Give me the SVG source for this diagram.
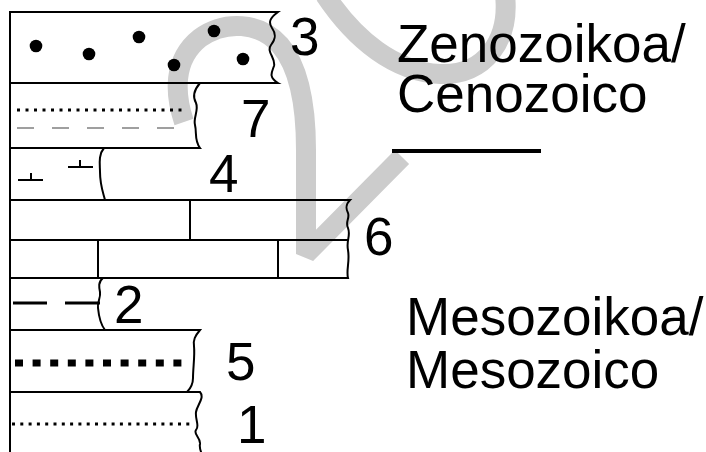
<svg xmlns="http://www.w3.org/2000/svg" width="706" height="452" viewBox="0 0 706 452">
  <style>
    .box { fill: none; stroke: #000; stroke-width: 2; stroke-linejoin: miter; }
    .num { font-family: "Liberation Sans", Arial, sans-serif; font-size: 53px; fill: #000; }
    .era { font-family: "Liberation Sans", Arial, sans-serif; font-size: 53px; fill: #000; }
    .mark { fill: none; stroke: #cccccc; stroke-width: 20; stroke-linecap: butt; stroke-linejoin: bevel; }
  </style>

  <rect width="706" height="452" fill="#fff"/>

  <!-- light grey stroke mark behind the column -->
  <g id="mark">
    <path class="mark" d="M 184,122 C 175,95 172,60 200,38 C 225,20 260,22 280,45 C 300,68 306,110 306,150 L 306,254 L 402,157"/>
    <path class="mark" d="M 325,-5 C 355,40 395,72 440,74 C 485,76 510,40 505,-5"/>
  </g>

  <!-- left edge of the column -->
  <line x1="10" y1="12" x2="10" y2="452" stroke="#000" stroke-width="2"/>

  <g id="layer-3">
    <path class="box" d="M 10,12 H 278 C 270,18 268,22 272,28 C 277,35 275,40 271,45 C 266,52 276,58 274,66 C 272,72 268,77 278,83 H 10 Z"/>
    <g fill="#000">
      <circle cx="36" cy="46" r="6.3"/>
      <circle cx="89" cy="54" r="6.3"/>
      <circle cx="139" cy="37" r="6.3"/>
      <circle cx="174" cy="65" r="6.3"/>
      <circle cx="214" cy="31" r="6.3"/>
      <circle cx="243" cy="59" r="6.3"/>
    </g>
    <text class="num" x="290" y="55">3</text>
  </g>

  <g id="layer-7">
    <path class="box" d="M 10,83 H 200 C 194,90 192,96 196,103 C 199,110 193,118 195,125 C 197,133 194,140 200,148 H 10 Z"/>
    <line x1="17" y1="110" x2="187" y2="110" stroke="#000" stroke-width="3" stroke-dasharray="3 5.5"/>
    <line x1="17" y1="128" x2="175" y2="128" stroke="#808080" stroke-width="1.5" stroke-dasharray="17 18"/>
    <text class="num" x="241" y="137">7</text>
  </g>

  <g id="layer-4">
    <path class="box" d="M 10,148 H 104 C 98,155 100,165 100,172 C 100,185 103,192 105,200 H 10 Z"/>
    <g stroke="#000" stroke-width="2">
      <line x1="18" y1="180" x2="43" y2="180"/>
      <line x1="31" y1="173" x2="31" y2="180"/>
      <line x1="68" y1="167" x2="93" y2="167"/>
      <line x1="80" y1="160" x2="80" y2="167"/>
    </g>
    <text class="num" x="209" y="192">4</text>
  </g>

  <g id="layer-6">
    <path class="box" d="M 10,200 H 350 C 345,205 346,209 348,213 C 350,218 345,222 348,228 C 351,236 346,240 348,250 C 350,262 346,270 348,278 H 10 Z"/>
    <g stroke="#000" stroke-width="2">
      <line x1="10" y1="240" x2="348" y2="240"/>
      <line x1="190" y1="200" x2="190" y2="240"/>
      <line x1="98" y1="240" x2="98" y2="278"/>
      <line x1="278" y1="240" x2="278" y2="278"/>
    </g>
    <text class="num" x="364" y="255">6</text>
  </g>

  <g id="layer-2">
    <path class="box" d="M 10,278 H 103 C 98,282 99,287 100,292 C 101,298 97,302 98,308 C 99,318 101,325 105,330 H 10 Z"/>
    <g stroke="#000" stroke-width="3">
      <line x1="13" y1="303" x2="47" y2="303"/>
      <line x1="65" y1="303" x2="100" y2="303"/>
    </g>
    <text class="num" x="114" y="323">2</text>
  </g>

  <g id="layer-5">
    <path class="box" d="M 10,330 H 200 C 195,336 193,340 194,346 C 195,356 193,368 193,378 C 193,385 190,389 187,392 H 10 Z"/>
    <line x1="15" y1="363" x2="185" y2="363" stroke="#000" stroke-width="7" stroke-dasharray="8 9.6"/>
    <text class="num" x="226" y="380">5</text>
  </g>

  <g id="layer-1">
    <path class="box" d="M 10,392 H 200 C 205,398 197,405 196,412 C 195,420 200,426 196,430 C 193,434 201,438 200,444 C 199,448 201,451 202,455"/>
    <line x1="12" y1="424" x2="192" y2="424" stroke="#000" stroke-width="3" stroke-dasharray="3 5.3"/>
    <text class="num" x="237" y="443">1</text>
  </g>

  <g id="era-cenozoic">
    <text class="era" x="397" y="62">Zenozoikoa/</text>
    <text class="era" x="397" y="112">Cenozoico</text>
  </g>

  <!-- boundary between the two eras -->
  <line id="era-boundary" x1="392" y1="151" x2="541" y2="151" stroke="#000" stroke-width="4"/>

  <g id="era-mesozoic">
    <text class="era" x="406" y="335">Mesozoikoa/</text>
    <text class="era" x="406" y="388">Mesozoico</text>
  </g>
</svg>
